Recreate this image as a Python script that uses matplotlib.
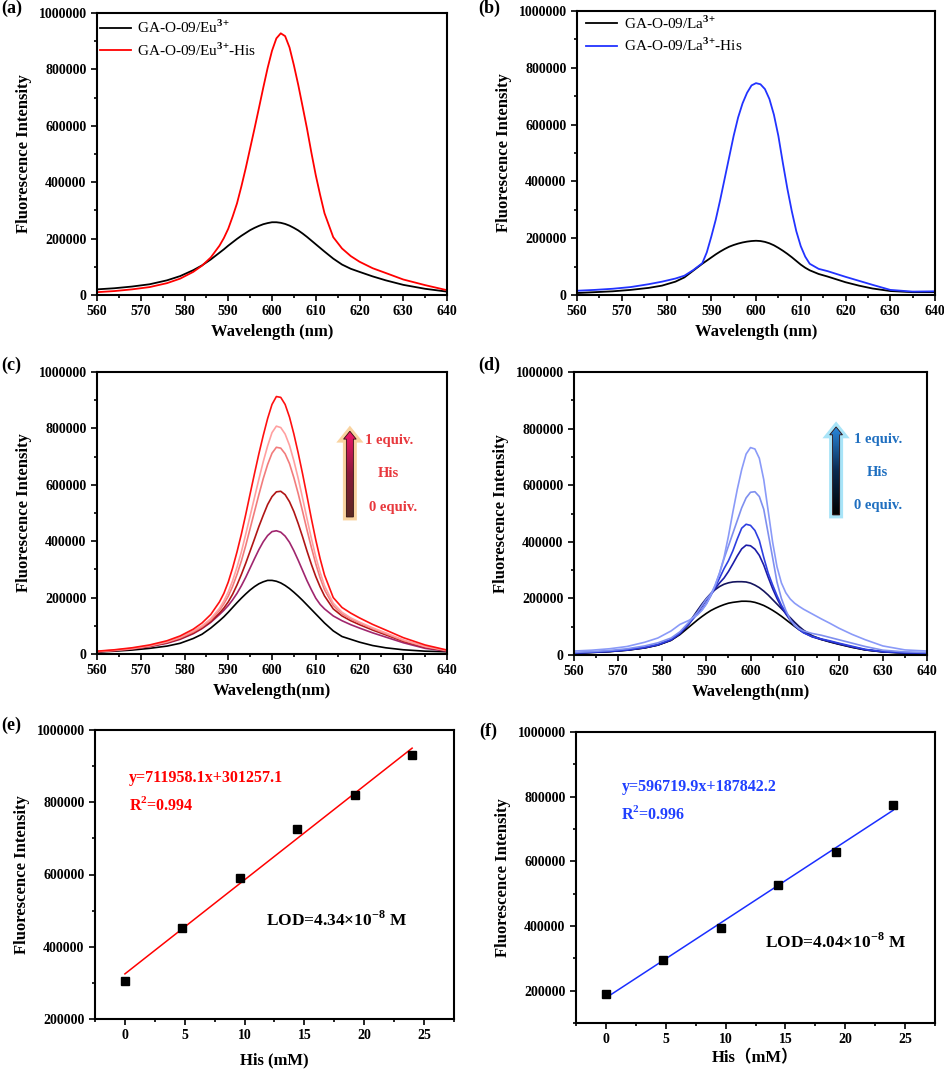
import numpy as np
import matplotlib
matplotlib.use("Agg")
import matplotlib.pyplot as plt
from matplotlib.ticker import MultipleLocator, FormatStrFormatter
from matplotlib.patches import FancyArrow
from matplotlib.colors import LinearSegmentedColormap

plt.rcParams['font.family'] = ['Liberation Serif', 'Noto Sans CJK SC']
plt.rcParams['font.weight'] = 'bold'
plt.rcParams['axes.labelweight'] = 'bold'
plt.rcParams['mathtext.fontset'] = 'custom'
plt.rcParams['mathtext.rm'] = 'Liberation Serif'
plt.rcParams['mathtext.bf'] = 'Liberation Serif:bold'
plt.rcParams['axes.linewidth'] = 1.5

# ---- data (intensities in thousands) ----
wl = [560, 564, 568, 572, 576, 579, 582, 584, 586,
      588, 589, 590, 591, 592, 593, 594, 595, 596, 597, 598, 599, 600,
      601, 602, 603, 604, 605, 606, 607, 608, 609, 610, 611, 612,
      614, 616, 618, 620, 623, 626, 630, 635, 640]

# (a) Eu3+
eu = [20, 24, 30, 38, 52, 67, 88, 105, 126,
      150, 162, 175, 187, 199, 210, 220, 230, 238, 245, 251, 255, 258,
      258, 256, 252, 246, 238, 229, 218, 206, 193, 180, 167, 154,
      129, 108, 93, 82, 66, 52, 36, 22, 12]
eu_his = [10, 14, 20, 28, 42, 58, 82, 104, 133,
          175, 202, 235, 278, 325, 385, 450, 520, 590, 662, 735, 805, 866,
          910, 928, 918, 878, 815, 745, 668, 590, 505, 425, 355, 290,
          205, 165, 138, 118, 95, 78, 55, 35, 17]

# (b) La3+
la = [7, 10, 13, 18, 25, 33, 47, 62, 86,
      110, 121, 132, 143, 153, 162, 170, 176, 181, 185, 188, 190, 191,
      190, 187, 182, 175, 166, 156, 145, 133, 120, 107, 96, 87,
      74, 65, 55, 45, 33, 23, 14, 10, 10]
la_his = [15, 18, 22, 28, 38, 47, 58, 68, 88,
          112, 150, 205, 265, 335, 410, 485, 560, 625, 675, 712, 738, 746,
          742, 725, 690, 635, 560, 465, 375, 295, 225, 172, 135, 110,
          92, 84, 74, 64, 50, 36, 18, 12, 13]

# (c) Eu3+ titration with His, 0 -> 1 equiv.
eu_titr = [
    [7, 10, 14, 20, 28, 38, 55, 70, 92,
     118, 132, 148, 165, 182, 198, 213, 227, 239, 249, 256, 261, 261,
     258, 252, 243, 232, 219, 205, 190, 174, 158, 142, 126, 110,
     82, 62, 52, 42, 30, 22, 15, 10, 8],
    [8, 12, 18, 26, 38, 52, 72, 90, 112,
     140, 155, 172, 192, 215, 242, 272, 305, 338, 370, 398, 420, 434,
     437, 432, 418, 396, 366, 332, 296, 260, 228, 198, 176, 160,
     135, 118, 104, 92, 75, 60, 40, 20, 10],
    [8, 12, 18, 27, 40, 54, 74, 92, 115,
     145, 163, 185, 212, 245, 282, 322, 365, 408, 452, 492, 530, 558,
     575, 577, 565, 540, 505, 462, 415, 365, 318, 275, 238, 206,
     160, 135, 118, 104, 85, 68, 45, 24, 11],
    [9, 13, 19, 28, 42, 57, 78, 96, 120,
     155, 178, 205, 240, 282, 330, 385, 445, 505, 565, 622, 672, 712,
     733, 730, 710, 675, 625, 568, 505, 440, 378, 320, 270, 228,
     172, 142, 124, 110, 90, 72, 48, 26, 12],
    [9, 14, 20, 30, 44, 60, 82, 100, 125,
     162, 188, 220, 260, 308, 362, 425, 490, 555, 620, 682, 738, 785,
     808, 803, 780, 740, 685, 622, 552, 480, 410, 345, 290, 242,
     180, 148, 128, 113, 93, 75, 50, 27, 13],
    [10, 15, 22, 32, 47, 64, 88, 110, 140,
     185, 215, 255, 305, 362, 425, 495, 568, 640, 710, 775, 835, 885,
     913, 910, 885, 840, 780, 712, 638, 560, 480, 405, 338, 280,
     200, 165, 145, 128, 105, 85, 58, 32, 14],
]
eu_titr_colors = ['black', '#A0266E', '#B01515', '#F27C7C', '#FFA0A0', '#FF1010']

# (d) La3+ titration with His, 0 -> 1 equiv.
la_titr = [
    [6, 9, 12, 17, 25, 35, 52, 72, 98,
     124, 136, 147, 157, 165, 172, 178, 183, 186, 188, 190, 190, 189,
     186, 181, 175, 167, 158, 148, 137, 125, 113, 101, 90, 81,
     66, 55, 46, 38, 27, 18, 11, 7, 6],
    [6, 9, 12, 17, 25, 35, 52, 75, 112,
     158, 180, 200, 217, 231, 242, 250, 255, 258, 259, 259, 258, 254,
     247, 238, 226, 212, 196, 180, 164, 148, 132, 116, 101, 88,
     68, 56, 47, 39, 28, 18, 11, 7, 6],
    [7, 10, 13, 18, 26, 36, 53, 75, 108,
     150, 172, 195, 215, 235, 255, 272, 295, 322, 350, 375, 388, 386,
     374, 352, 318, 275, 235, 200, 170, 145, 123, 104, 90, 79,
     64, 55, 48, 40, 29, 19, 12, 8, 7],
    [7, 10, 13, 18, 27, 37, 55, 78, 112,
     145, 160, 182, 210, 240, 272, 305, 333, 368, 410, 448, 462, 458,
     440, 405, 345, 290, 248, 210, 176, 150, 126, 106, 90, 79,
     65, 57, 50, 42, 31, 20, 12, 8, 7],
    [9, 12, 16, 22, 32, 43, 60, 82, 115,
     152, 175, 198, 215, 245, 290, 340, 385, 430, 475, 520, 555, 575,
     577, 560, 515, 430, 345, 258, 200, 158, 125, 105, 93, 85,
     76, 70, 62, 54, 42, 30, 17, 11, 9],
    [14, 17, 22, 30, 45, 60, 85, 108, 122,
     142, 158, 180, 210, 248, 290, 345, 420, 505, 585, 655, 710, 733,
     728, 695, 620, 510, 400, 312, 255, 220, 198, 183, 172, 162,
     145, 128, 112, 95, 73, 54, 32, 18, 14],
]
la_titr_colors = ['black', '#14145E', '#1C1CA8', '#2E3FE0', '#7F8FEF', '#8A9AF8']

# (e), (f) linear fits
his = [0, 4.8, 9.6, 14.4, 19.2, 24]
int_eu = [305, 452, 590, 725, 820, 932]
int_la = [189, 295, 394, 526, 628, 775]

W, H = 945, 1071
fig = plt.figure(figsize=(W / 100, H / 100), dpi=100)


def px_axes(l, t, r, b):
    return fig.add_axes([l / W, 1 - b / H, (r - l) / W, (b - t) / H])


def style(ax, ylab='Fluorescence Intensity', xlab=None, xpad=4):
    ax.tick_params(which='both', direction='out', top=False, right=False,
                   width=1.2, labelsize=10)
    ax.tick_params(which='major', length=4)
    ax.tick_params(which='minor', length=2.5)
    ax.yaxis.set_major_formatter(FormatStrFormatter('%d'))
    ax.xaxis.set_major_formatter(FormatStrFormatter('%d'))
    ax.set_ylabel(ylab, fontsize=12, labelpad=5)
    ax.set_xlabel(xlab, fontsize=12, labelpad=xpad)


def spec_axes(ax):
    ax.set_xlim(560, 640)
    ax.set_ylim(0, 1000000)
    ax.xaxis.set_major_locator(MultipleLocator(10))
    ax.xaxis.set_minor_locator(MultipleLocator(5))
    ax.yaxis.set_major_locator(MultipleLocator(200000))
    ax.yaxis.set_minor_locator(MultipleLocator(100000))


def grad_arrow(ax, x, y0, y1, shaft, head_w, head_l, colors, glow):
    kw = dict(width=shaft, head_width=head_w, head_length=head_l,
              length_includes_head=True)
    ax.add_patch(FancyArrow(x, y0, 0, y1 - y0, facecolor='none',
                            edgecolor=glow, linewidth=5, zorder=4, **kw))
    clip = FancyArrow(x, y0, 0, y1 - y0, facecolor='none',
                      edgecolor='#301010', linewidth=0.6, zorder=6, **kw)
    ax.add_patch(clip)
    cmap = LinearSegmentedColormap.from_list('g', colors)
    grad = np.linspace(0, 1, 256).reshape(-1, 1)
    im = ax.imshow(grad, extent=[x - head_w / 2, x + head_w / 2, y0, y1],
                   origin='lower', aspect='auto', cmap=cmap, zorder=5)
    im.set_clip_path(clip)


k = 1000.0

# (a)
ax = px_axes(97, 13, 447, 295)
ax.plot(wl, np.array(eu) * k, color='black', lw=1.3,
        label='GA-O-09/Eu$^{3{+}}$')
ax.plot(wl, np.array(eu_his) * k, color='#FF0000', lw=1.3,
        label='GA-O-09/Eu$^{3{+}}$-His')
spec_axes(ax)
style(ax, xlab='Wavelength (nm)')
ax.legend(loc='upper left', bbox_to_anchor=(0.0, 0.99), borderaxespad=0,
          borderpad=0.2, frameon=False, handlelength=2.0, handletextpad=0.45,
          labelspacing=0.35, prop={'weight': 'normal', 'size': 11})

# (b)
ax = px_axes(577, 11, 935, 295)
ax.plot(wl, np.array(la) * k, color='black', lw=1.3,
        label='GA-O-09/La$^{3{+}}$')
ax.plot(wl, np.array(la_his) * k, color='#2233FF', lw=1.3,
        label='GA-O-09/La$^{3{+}}$-His')
spec_axes(ax)
style(ax, xlab='Wavelength (nm)')
ax.legend(loc='upper left', bbox_to_anchor=(0.017, 0.999), borderaxespad=0,
          borderpad=0.2, frameon=False, handlelength=2.0, handletextpad=0.45,
          labelspacing=0.35, prop={'weight': 'normal', 'size': 11})

# (c)
ax = px_axes(97, 372, 447, 654)
for ys, c in zip(eu_titr, eu_titr_colors):
    ax.plot(wl, np.array(ys) * k, color=c, lw=1.2)
spec_axes(ax)
style(ax, xlab='Wavelength(nm)')
grad_arrow(ax, 617.8, 486000, 790000, 1.6, 2.9, 28000,
           ['#5C2A22', '#8B1A3A', '#F0186A'], '#F9D3A0')
red_txt = '#E8383D'
ax.text(621.3, 757000, '1 equiv.', color=red_txt, fontsize=10.5, va='center')
ax.text(626.7, 640000, 'His', color=red_txt, fontsize=10.5, va='center', ha='center')
ax.text(622.2, 520000, '0 equiv.', color=red_txt, fontsize=10.5, va='center')

# (d)
ax = px_axes(574, 372, 927, 655)
for ys, c in zip(la_titr, la_titr_colors):
    ax.plot(wl, np.array(ys) * k, color=c, lw=1.2)
spec_axes(ax)
style(ax, xlab='Wavelength(nm)')
grad_arrow(ax, 619.4, 495000, 806000, 1.6, 2.9, 28000,
           ['#000000', '#0A2A50', '#2A8AE0'], '#A8E4F8')
blue_txt = '#1F6FC0'
ax.text(623.5, 763000, '1 equiv.', color=blue_txt, fontsize=10.5, va='center')
ax.text(628.7, 645000, 'His', color=blue_txt, fontsize=10.5, va='center', ha='center')
ax.text(623.5, 530000, '0 equiv.', color=blue_txt, fontsize=10.5, va='center')

# (e)
ax = px_axes(95, 730, 454, 1019)
y_e = np.array(int_eu) * k
p = np.polyfit(his, y_e, 1)
xl = np.array([his[0], his[-1]])
ax.plot(xl, np.polyval(p, xl), color='red', lw=1.1)
ax.plot(his, y_e, 's', color='black', ms=5.5)
ax.set_xlim(-2.5, 27.5)
ax.set_ylim(200000, 1000000)
ax.xaxis.set_major_locator(MultipleLocator(5))
ax.xaxis.set_minor_locator(MultipleLocator(2.5))
ax.yaxis.set_major_locator(MultipleLocator(200000))
ax.yaxis.set_minor_locator(MultipleLocator(100000))
style(ax, xlab='His (mM)', xpad=7)
ax.text(0.3, 868000, 'y=711958.1x+301257.1', color='red', fontsize=11.5, va='center')
ax.text(0.3, 792000, r'R$^{\mathbf{2}}$=0.994', color='red', fontsize=11.5, va='center')
ax.text(11.8, 475000, r'LOD=4.34×10$^{\mathbf{-8}}$ M', color='black',
        fontsize=12.5, va='center')

# (f)
ax = px_axes(576, 732, 935, 1023)
y_f = np.array(int_la) * k
p = np.polyfit(his, y_f, 1)
ax.plot(xl, np.polyval(p, xl), color='#1A2EFF', lw=1.1)
ax.plot(his, y_f, 's', color='black', ms=5.5)
ax.set_xlim(-2.5, 27.5)
ax.set_ylim(100000, 1000000)
ax.xaxis.set_major_locator(MultipleLocator(5))
ax.xaxis.set_minor_locator(MultipleLocator(2.5))
ax.yaxis.set_major_locator(MultipleLocator(200000))
ax.yaxis.set_minor_locator(MultipleLocator(100000))
style(ax, xlab='His（mM）', xpad=3)
ax.text(1.3, 829000, 'y=596719.9x+187842.2', color='#2040FF', fontsize=11.5, va='center')
ax.text(1.3, 745000, r'R$^{\mathbf{2}}$=0.996', color='#2040FF', fontsize=11.5, va='center')
ax.text(13.3, 351000, r'LOD=4.04×10$^{\mathbf{-8}}$ M', color='black',
        fontsize=12.5, va='center')

# panel letters
for lab, xp, yp in [('(a)', 1, 8), ('(b)', 478, 8), ('(c)', 1, 365),
                    ('(d)', 478, 365), ('(e)', 1, 725), ('(f)', 479, 731)]:
    fig.text(xp / W, 1 - yp / H, lab, fontsize=13, va='center', ha='left')

fig.savefig('out.png', dpi=100)
